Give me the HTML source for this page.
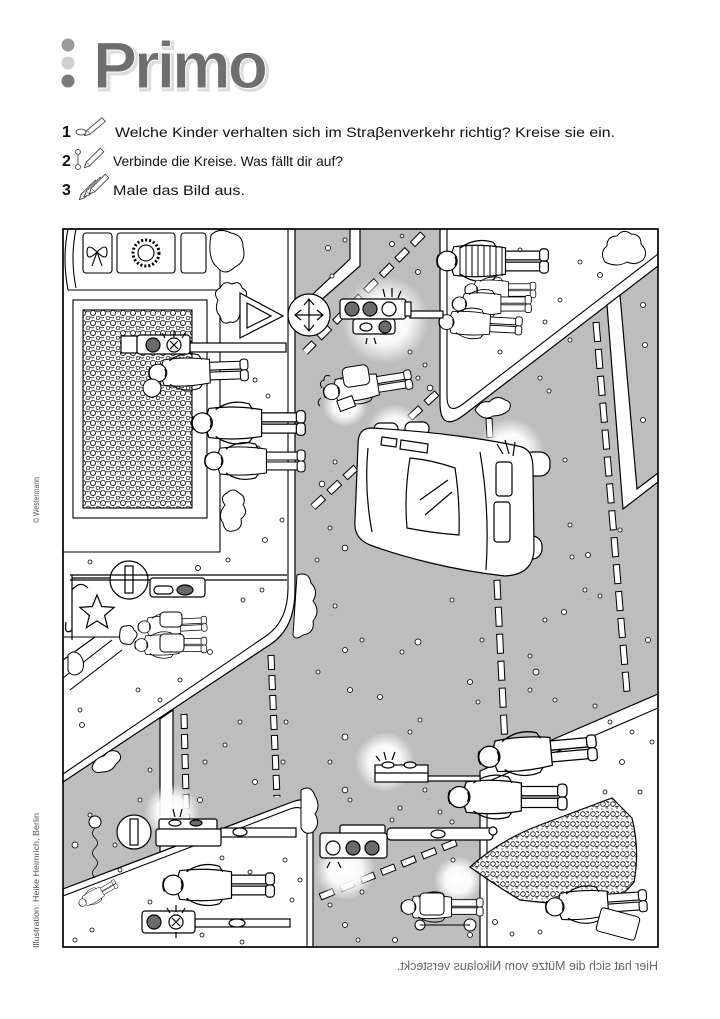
<!DOCTYPE html>
<html><head><meta charset="utf-8"><style>
html,body{margin:0;padding:0;background:#fff;}
svg{display:block;}
</style></head><body>
<svg xmlns="http://www.w3.org/2000/svg" xmlns:xlink="http://www.w3.org/1999/xlink" width="720" height="1019" viewBox="0 0 720 1019" font-family="'Liberation Sans', sans-serif">
<defs>
<radialGradient id="gl"><stop offset="0" stop-color="#fff" stop-opacity="1"/><stop offset="0.55" stop-color="#fff" stop-opacity="0.9"/><stop offset="1" stop-color="#fff" stop-opacity="0"/></radialGradient>
<pattern id="deco" width="10" height="10" patternUnits="userSpaceOnUse">
 <rect width="10" height="10" fill="#fff"/>
 <circle cx="3" cy="3" r="2.6" fill="none" stroke="#000" stroke-width="0.8"/>
 <circle cx="8" cy="8" r="1.8" fill="none" stroke="#000" stroke-width="0.7"/>
 <path d="M6,1 q2,2 4,0 M0,7 q2,2 4,0" fill="none" stroke="#000" stroke-width="0.6"/>
</pattern>
<pattern id="tree" width="10" height="10" patternUnits="userSpaceOnUse">
 <rect width="10" height="10" fill="#fff"/>
 <circle cx="3" cy="4" r="2.3" fill="none" stroke="#000" stroke-width="0.8"/>
 <circle cx="8" cy="2" r="0.7"/><circle cx="7" cy="8" r="0.7"/><circle cx="9" cy="5" r="0.6"/><circle cx="2" cy="9" r="0.6"/>
 <path d="M5,7 l4,-1 M6,1 l3,2" stroke="#000" stroke-width="0.7"/>
</pattern>
<g id="per" fill="#fff" stroke="#000" stroke-width="1.1" stroke-linejoin="round">
 <rect x="52" y="-9" width="36" height="8" rx="2"/>
 <rect x="52" y="1" width="36" height="8" rx="2"/>
 <rect x="86" y="-11" width="8" height="11" rx="3"/>
 <rect x="86" y="0" width="8" height="11" rx="3"/>
 <path d="M8,-13 Q30,-16 55,-12 L55,12 Q30,16 8,13 Q3,0 8,-13 Z"/>
 <path d="M14,-12 Q28,-22 44,-17 L47,-12" fill="none"/>
 <path d="M14,12 Q28,22 44,17 L47,13" fill="none"/>
 <circle cx="2" cy="0" r="9"/>
 <path d="M-6,-6 q-3,6 0,12 M9,-4 q2,4 0,8" fill="none"/>
</g>
</defs>

<!-- Title -->
<circle cx="68" cy="45" r="6.5" fill="#9a9a9a"/>
<circle cx="68" cy="63" r="6.5" fill="#cfcfcf"/>
<circle cx="68" cy="81" r="6.5" fill="#7a7a7a"/>
<text x="95" y="90" font-size="66" font-weight="bold" letter-spacing="-3" fill="#dcdcdc" stroke="#dcdcdc" stroke-width="3">Primo</text>
<text x="93" y="88" font-size="66" font-weight="bold" letter-spacing="-3" fill="#6e6e6e" stroke="#fff" stroke-width="1">Primo</text>

<!-- Instructions -->
<g font-size="14" fill="#111">
 <text x="62" y="137" font-weight="bold" font-size="16">1</text>
 <text x="62" y="166" font-weight="bold" font-size="16">2</text>
 <text x="62" y="195" font-weight="bold" font-size="16">3</text>
 <text x="115" y="137" textLength="500" lengthAdjust="spacingAndGlyphs">Welche Kinder verhalten sich im Straβenverkehr richtig? Kreise sie ein.</text>
 <text x="113" y="166" textLength="230" lengthAdjust="spacingAndGlyphs">Verbinde die Kreise. Was fällt dir auf?</text>
 <text x="113" y="195" textLength="132" lengthAdjust="spacingAndGlyphs">Male das Bild aus.</text>
</g>
<g fill="#fff" stroke="#333" stroke-width="0.8">
 <ellipse cx="81" cy="132" rx="5" ry="3"/>
 <g transform="translate(96,126) rotate(-40)"><rect x="-10" y="-2.5" width="20" height="5"/><path d="M-10,-2.5 L-15,0 L-10,2.5"/></g>
 <circle cx="78" cy="152" r="2.5"/><circle cx="78" cy="167" r="2.5"/><path d="M78,155 V164" fill="none"/>
 <g transform="translate(95,157) rotate(-45)"><rect x="-10" y="-2.5" width="20" height="5"/><path d="M-10,-2.5 L-15,0 L-10,2.5"/></g>
 <g transform="translate(90,189) rotate(-45)"><rect x="-10" y="-2.5" width="20" height="5"/><path d="M-10,-2.5 L-15,0 L-10,2.5"/></g>
 <g transform="translate(95,186) rotate(-45)"><rect x="-10" y="-2.5" width="20" height="5"/><path d="M-10,-2.5 L-15,0 L-10,2.5"/></g>
 <g transform="translate(100,183) rotate(-45)"><rect x="-10" y="-2.5" width="20" height="5"/><path d="M-10,-2.5 L-15,0 L-10,2.5"/></g>
</g>

<!-- Side texts -->
<text transform="translate(39,523) rotate(-90)" font-size="8.5" fill="#555" textLength="46" lengthAdjust="spacingAndGlyphs">© Westermann</text>
<text transform="translate(39,948) rotate(-90)" font-size="8.5" fill="#555" textLength="135" lengthAdjust="spacingAndGlyphs">Illustration: Heike Heimrich, Berlin</text>
<g transform="translate(1055 0) scale(-1 1)"><text x="397" y="970" font-size="12.5" fill="#666" textLength="261" lengthAdjust="spacingAndGlyphs">Hier hat sich die Mütze vom Nikolaus versteckt.</text></g>

<!-- ILLUSTRATION -->
<rect x="63" y="229" width="595" height="718" fill="#bdbdbd"/>

<!-- white areas -->
<g fill="#fff" stroke="#000" stroke-width="1.2">
 <path d="M63,229 H295 V590 Q295,628 271,644 L63,782 Z"/>
 <path d="M440,229 H658 V266 L464,415 Q440,433 440,403 Z"/>
 <path d="M607,305 L620,295 L637,489 L658,473 L658,482 L623,509 Z"/>
 <path d="M63,947 V889 L292,802 Q313,794 313,816 V947 Z"/>
 <path d="M480,947 V771 L658,694 V947 Z"/>
 <path d="M160,719 L173,710 L173,847 L160,852 Z"/>
 <path d="M350,229 L360,229 L360,266 L296,322 L296,310 L350,259 Z"/>
</g>
<g fill="none" stroke="#000" stroke-width="1.1">
 <path d="M288,229 V588 Q288,621 266,636 L63,774"/>
 <path d="M447,229 V396 Q447,416 463,404 L658,254"/>
 <path d="M63,896 L290,809 Q307,803 307,822 V947"/>
 <path d="M487,947 V782 L658,708"/>
</g>

<!-- road markings -->
<g fill="none">
 <path d="M423,234 L305,352 M437,393 L313,507 M320,897 L457,842" stroke="#000" stroke-width="7.5" stroke-dasharray="15 7"/>
 <path d="M423,234 L305,352 M437,393 L313,507 M320,897 L457,842" stroke="#fff" stroke-width="5.5" stroke-dasharray="13 9" stroke-dashoffset="-1"/>
 <path d="M596,322 L627,692 M489,418 L506,765" stroke="#000" stroke-width="7" stroke-dasharray="20 7"/>
 <path d="M596,322 L627,692 M489,418 L506,765" stroke="#fff" stroke-width="5" stroke-dasharray="18 9" stroke-dashoffset="-1"/>
 <path d="M184,714 L187,838 M271,655 L277,797" stroke="#000" stroke-width="7" stroke-dasharray="15 5"/>
 <path d="M184,714 L187,838 M271,655 L277,797" stroke="#fff" stroke-width="5" stroke-dasharray="13 7" stroke-dashoffset="-1"/>
</g>

<!-- glows -->
<g fill="url(#gl)">
 <circle cx="385" cy="320" r="44"/>
 <circle cx="345" cy="405" r="22"/>
 <circle cx="395" cy="432" r="28"/>
 <circle cx="510" cy="452" r="34"/>
 <circle cx="385" cy="762" r="30"/>
 <circle cx="172" cy="812" r="28"/>
 <circle cx="345" cy="870" r="30"/>
 <circle cx="458" cy="880" r="24"/>
</g>

<!-- snow dots -->
<g fill="#fff" stroke="#000" stroke-width="0.8">
 <circle cx="328" cy="248" r="2.5"/><circle cx="345" cy="240" r="2"/><circle cx="392" cy="244" r="2.5"/><circle cx="402" cy="236" r="1.8"/>
 <circle cx="332" cy="276" r="2"/><circle cx="418" cy="272" r="2.5"/><circle cx="410" cy="352" r="2"/><circle cx="425" cy="365" r="2"/>
 <circle cx="418" cy="378" r="2"/><circle cx="430" cy="388" r="2.8"/><circle cx="335" cy="462" r="2"/><circle cx="322" cy="484" r="2.8"/>
 <circle cx="330" cy="528" r="2"/><circle cx="345" cy="548" r="2.8"/><circle cx="317" cy="560" r="2"/><circle cx="335" cy="606" r="2"/>
 <circle cx="345" cy="650" r="2.5"/><circle cx="362" cy="640" r="2"/><circle cx="418" cy="642" r="3"/><circle cx="402" cy="652" r="2"/>
 <circle cx="318" cy="672" r="2"/><circle cx="350" cy="690" r="2.5"/><circle cx="380" cy="697" r="2.5"/><circle cx="420" cy="720" r="2"/>
 <circle cx="410" cy="732" r="2"/><circle cx="345" cy="737" r="3"/><circle cx="330" cy="762" r="2"/><circle cx="350" cy="800" r="2"/>
 <circle cx="400" cy="808" r="2"/><circle cx="392" cy="820" r="2"/><circle cx="345" cy="790" r="2.8"/><circle cx="440" cy="812" r="2"/>
 <circle cx="549" cy="391" r="2"/><circle cx="643" cy="305" r="2.5"/><circle cx="645" cy="345" r="2.5"/><circle cx="643" cy="420" r="2.5"/>
 <circle cx="570" cy="525" r="2"/><circle cx="572" cy="557" r="2"/><circle cx="588" cy="555" r="2.5"/><circle cx="585" cy="590" r="2"/>
 <circle cx="545" cy="620" r="2"/><circle cx="564" cy="612" r="2.5"/><circle cx="600" cy="596" r="2"/><circle cx="530" cy="656" r="2"/>
 <circle cx="536" cy="672" r="3"/><circle cx="530" cy="690" r="2"/><circle cx="555" cy="700" r="2"/><circle cx="595" cy="706" r="2"/>
 <circle cx="482" cy="640" r="2"/><circle cx="470" cy="682" r="2.5"/><circle cx="478" cy="702" r="2"/><circle cx="452" cy="600" r="2"/>
 <circle cx="460" cy="560" r="2"/><circle cx="565" cy="460" r="2"/><circle cx="620" cy="530" r="2"/><circle cx="648" cy="640" r="2.5"/>
 <circle cx="90" cy="815" r="2"/><circle cx="75" cy="845" r="3"/><circle cx="115" cy="845" r="2"/><circle cx="120" cy="870" r="2"/>
 <circle cx="140" cy="800" r="2"/><circle cx="205" cy="762" r="2"/><circle cx="200" cy="800" r="2.5"/><circle cx="225" cy="745" r="2"/>
 <circle cx="240" cy="722" r="2"/><circle cx="222" cy="858" r="2"/><circle cx="255" cy="782" r="2.5"/><circle cx="283" cy="762" r="2"/>
 <circle cx="286" cy="722" r="2"/><circle cx="232" cy="830" r="2"/><circle cx="150" cy="770" r="2"/>
 <circle cx="330" cy="905" r="2"/><circle cx="345" cy="925" r="2.5"/><circle cx="362" cy="892" r="2"/><circle cx="425" cy="790" r="2"/>
 <circle cx="453" cy="860" r="2"/><circle cx="470" cy="935" r="2.5"/><circle cx="452" cy="822" r="2"/><circle cx="358" cy="940" r="2"/><circle cx="395" cy="940" r="2.5"/>
 <circle cx="255" cy="380" r="2"/><circle cx="268" cy="396" r="2"/><circle cx="258" cy="448" r="2"/><circle cx="282" cy="520" r="2"/>
 <circle cx="265" cy="540" r="2.5"/><circle cx="90" cy="562" r="2"/><circle cx="210" cy="652" r="2.5"/><circle cx="180" cy="680" r="2"/>
 <circle cx="160" cy="700" r="2"/><circle cx="80" cy="710" r="2"/><circle cx="82" cy="725" r="2.5"/><circle cx="243" cy="600" r="2"/>
 <circle cx="262" cy="590" r="2"/><circle cx="228" cy="560" r="2"/><circle cx="198" cy="568" r="2.5"/><circle cx="138" cy="690" r="2"/>
 <circle cx="580" cy="262" r="2"/><circle cx="600" cy="275" r="2.5"/><circle cx="560" cy="300" r="2"/><circle cx="545" cy="322" r="2"/>
 <circle cx="570" cy="340" r="2"/><circle cx="500" cy="352" r="2"/><circle cx="540" cy="378" r="2"/><circle cx="520" cy="250" r="2"/>
 <circle cx="610" cy="722" r="2"/><circle cx="632" cy="732" r="2"/><circle cx="622" cy="762" r="2.5"/><circle cx="652" cy="742" r="2"/>
 <circle cx="605" cy="792" r="2"/><circle cx="640" cy="792" r="2"/><circle cx="495" cy="922" r="2.5"/><circle cx="512" cy="934" r="2"/>
 <circle cx="540" cy="932" r="2"/><circle cx="628" cy="922" r="2"/>
 <circle cx="75" cy="940" r="2"/><circle cx="92" cy="930" r="2"/><circle cx="150" cy="902" r="2"/><circle cx="202" cy="935" r="2"/>
 <circle cx="242" cy="942" r="2"/><circle cx="292" cy="900" r="2"/><circle cx="300" cy="880" r="2"/><circle cx="285" cy="860" r="2"/><circle cx="250" cy="872" r="2"/>
</g>

<!-- building -->
<g fill="none" stroke="#000" stroke-width="1.1">
 <path d="M220,229 V552 H63"/>
 <path d="M68,290 H220"/>
 <path d="M68,229 Q62,258 68,290 M76,229 Q70,258 76,288"/>
 <rect x="83" y="233" width="29" height="40" rx="3" fill="#fff"/>
 <rect x="117" y="233" width="58" height="40" rx="3" fill="#fff"/>
 <rect x="181" y="233" width="25" height="40" rx="3" fill="#fff"/>
 <path d="M97,252 q-10,-10 -10,0 q0,10 10,0 q10,-10 10,0 q0,10 -10,0 M97,252 l-5,14 M97,252 l5,14"/>
 <circle cx="146" cy="253" r="13" stroke-width="3" stroke-dasharray="2 2"/>
 <circle cx="146" cy="253" r="8"/>
 <rect x="73" y="300" width="134" height="218" fill="#fff"/>
 <rect x="83" y="310" width="109" height="198" fill="url(#deco)"/>
 <path d="M63,637 H123 M63,660 L95,637 M63,678 L112,640 M70,690 L122,650"/>
</g>

<!-- bushes -->
<g fill="#fff" stroke="#000" stroke-width="1">
 <path d="M218,300 q-6,-8 2,-12 q4,-8 12,-4 q8,-4 10,4 q8,4 2,12 q4,10 -4,14 q-2,10 -10,8 q-8,4 -10,-6 q-6,-6 -2,-16 Z"/>
 <path d="M225,505 q-6,-8 2,-12 q6,-6 12,0 q8,4 4,12 q6,8 -2,14 q2,10 -8,12 q-8,2 -10,-8 q-6,-8 2,-18 Z"/>
 <path d="M120,632 q0,-6 6,-6 q6,-2 8,4 q6,4 0,10 q-2,6 -8,4 q-8,0 -6,-12 Z"/>
 <path d="M297,575 q12,-4 14,8 q8,8 2,18 q8,10 0,20 q2,12 -10,14 q-8,6 -10,0 Z"/>
 <path d="M605,262 q-6,-10 2,-16 q0,-10 10,-10 q6,-8 14,-2 q10,0 10,10 q8,8 2,16 q-8,6 -16,2 q-10,6 -22,0 Z"/>
 <path d="M475,410 q6,-10 14,-8 q8,-8 16,-2 q8,2 4,10 q-6,6 -16,6 q-10,6 -18,-6 Z"/>
 <path d="M92,768 q2,-10 12,-12 q6,-8 14,-4 q6,6 -2,12 q-4,8 -14,8 q-8,2 -10,-4 Z"/>
 <path d="M301,790 q10,-6 14,6 q6,10 0,18 q6,10 -2,18 q-8,4 -12,-4 Z"/>
 <path d="M211,235 q8,-8 20,-2 q12,2 12,14 q4,14 -8,20 q-10,10 -18,0 q-10,-8 -6,-32 Z"/>
</g>

<!-- car -->
<g fill="#fff" stroke="#000" stroke-width="1.2">
 <rect x="522" y="452" width="28" height="24" rx="10"/>
 <rect x="516" y="536" width="26" height="23" rx="10"/>
 <rect x="374" y="423" width="24" height="14" rx="6"/>
 <rect x="405" y="422" width="24" height="13" rx="6"/>
 <path d="M372,428 C440,432 490,440 518,446 C530,448 533,456 533,470 L534,548 C534,565 525,575 505,576 C450,570 400,556 370,545 C358,540 354,532 355,520 L358,445 C358,432 363,428 372,428 Z"/>
 <path d="M368,448 Q364,490 372,532" fill="none"/>
 <path d="M382,437 L397,439 L396,447 L381,445 Z M401,440 L428,444 L427,453 L400,449 Z"/>
 <path d="M410,458 Q432,460 455,468 Q460,500 459,535 Q432,533 407,528 Q404,494 410,458 Z"/>
 <path d="M420,500 L448,480 M425,515 L452,492" fill="none"/>
 <path d="M480,452 Q490,510 486,570" fill="none"/>
 <rect x="496" y="462" width="16" height="34" rx="3"/>
 <rect x="494" y="502" width="16" height="40" rx="3"/>
 <path d="M505,440 l4,14 M515,442 l-2,14 M497,444 l6,10" fill="none"/>
</g>

<!-- people -->
<use xlink:href="#per" href="#per" transform="translate(445,261) scale(1.1)"/>
<g stroke="#000" stroke-width="1" fill="none"><path d="M460,247 V276 M466,246 V277 M472,246 V277 M478,246 V277 M484,246 V277 M490,246 V276 M496,247 V276 M502,247 V276"/></g>
<use xlink:href="#per" href="#per" transform="translate(470,290) scale(0.7)"/>
<use xlink:href="#per" href="#per" transform="translate(458,304) scale(0.78)"/>
<use xlink:href="#per" href="#per" transform="translate(445,322) rotate(3) scale(0.82)"/>
<use xlink:href="#per" href="#per" transform="translate(330,392) rotate(-9) scale(0.88)"/>
<rect x="343" y="366" width="26" height="20" rx="5" fill="#fff" stroke="#000" transform="rotate(-9 356 376)"/>
<rect x="338" y="398" width="16" height="11" fill="#fff" stroke="#000" transform="rotate(-20 346 403)"/>
<path d="M322,388 q-4,-6 2,-8 q0,-6 6,-4 M321,398 q-5,4 -1,8" fill="none" stroke="#000"/>
<use xlink:href="#per" href="#per" transform="translate(156,373) rotate(-2) scale(0.98)"/>
<circle cx="152" cy="388" r="9" fill="#fff" stroke="#000"/>
<use xlink:href="#per" href="#per" transform="translate(200,423) scale(1.12)"/>
<use xlink:href="#per" href="#per" transform="translate(212,461) scale(0.99)"/>
<use xlink:href="#per" href="#per" transform="translate(143,627) rotate(-3) scale(0.68)"/>
<use xlink:href="#per" href="#per" transform="translate(140,645) scale(0.71)"/>
<rect x="160" y="634" width="24" height="18" rx="4" fill="#fff" stroke="#000"/>
<rect x="160" y="612" width="22" height="15" rx="4" fill="#fff" stroke="#000"/>
<path d="M68,655 q6,-6 12,0 q6,8 2,16 q-8,8 -14,0 Z" fill="#fff" stroke="#000"/>

<!-- christmas tree -->
<path d="M470,867 Q500,840 540,825 Q580,810 612,798 Q622,808 632,818 Q640,850 634,882 Q620,900 600,905 Q560,905 520,900 Q495,885 470,867 Z" fill="url(#tree)" stroke="#000" stroke-width="1.2"/>

<use xlink:href="#per" href="#per" transform="translate(487,757) rotate(-5) scale(1.17)"/>
<use xlink:href="#per" href="#per" transform="translate(457,797) scale(1.17)"/>
<use xlink:href="#per" href="#per" transform="translate(553,907) rotate(-4) scale(1.0)"/>
<rect x="598" y="912" width="40" height="24" rx="3" fill="#fff" stroke="#000" transform="rotate(15 618 924)"/>
<use xlink:href="#per" href="#per" transform="translate(407,907) scale(0.81)"/>
<rect x="420" y="893" width="24" height="22" rx="4" fill="#fff" stroke="#000"/>
<g fill="#fff" stroke="#000"><circle cx="420" cy="925" r="5"/><circle cx="470" cy="925" r="6"/><path d="M420,925 L470,925"/></g>
<use xlink:href="#per" href="#per" transform="translate(82,903) rotate(-30) scale(0.42)"/>
<use xlink:href="#per" href="#per" transform="translate(171,885) scale(1.1)"/>
<circle cx="95" cy="822" r="6" fill="#fff" stroke="#000"/>
<path d="M95,828 q-5,5 0,10 q5,5 0,10 q-5,5 0,10 q5,5 0,10 q-5,5 0,10" fill="none" stroke="#000" stroke-width="0.8"/>

<!-- signs -->
<g fill="#fff" stroke="#000" stroke-width="1.2">
 <polygon points="240,293 240,338 283,316"/>
 <polygon points="247,303 247,328 271,316" fill="none"/>
 <circle cx="309" cy="315" r="21"/>
 <path d="M309,300 V330 M296,315 H322 M304,305 L309,299 L314,305 M304,325 L309,331 L314,325 M301,310 L295,315 L301,320 M317,310 L323,315 L317,320" fill="none"/>
 <circle cx="129" cy="580" r="19"/>
 <rect x="125" y="566" width="8" height="27"/>
 <circle cx="134" cy="832" r="17"/>
 <rect x="130" y="819" width="8" height="26"/>
 <path d="M72,575 V640 M72,578 H110 M72,590 q8,-10 16,-2 M72,630 q-8,6 -6,-8" fill="none"/>
 <polygon points="97,595 101.7,606.5 114.1,607.4 104.6,615.5 107.6,627.6 97,621 86.4,627.6 89.4,615.5 79.9,607.4 92.3,606.5"/>
</g>

<!-- traffic lights -->
<g fill="#fff" stroke="#000" stroke-width="1.2">
 <rect x="410" y="311" width="33" height="7"/>
 <rect x="340" y="299" width="66" height="20" rx="3"/>
 <rect x="405" y="302" width="6" height="14"/>
 <circle cx="352" cy="309" r="7" fill="#6b6b6b"/>
 <circle cx="370" cy="309" r="7" fill="#6b6b6b"/>
 <circle cx="389" cy="309" r="7"/>
 <rect x="353" y="319" width="42" height="15" rx="3"/>
 <ellipse cx="366" cy="327" rx="6" ry="4"/>
 <circle cx="385" cy="327" r="6" fill="#6b6b6b"/>
 <path d="M385,297 l-2,-8 M392,297 l0,-9 M398,298 l3,-7 M367,338 l-1,6 M374,338 l2,6" fill="none"/>
 <rect x="190" y="343" width="96" height="9"/>
 <rect x="121" y="336" width="16" height="17"/>
 <rect x="137" y="335" width="53" height="19" rx="3"/>
 <circle cx="153" cy="345" r="7" fill="#6b6b6b"/>
 <circle cx="174" cy="345" r="7"/>
 <path d="M170,341 l8,8 M178,341 l-8,8 M174,337 l0,-6 M165,338 l-3,-5 M182,338 l3,-5" fill="none"/>
 <path d="M70,575 H287 M70,580 H150 M205,580 H287" fill="none"/>
 <rect x="150" y="578" width="55" height="19" rx="3"/>
 <rect x="154" y="586" width="19" height="8" rx="4"/>
 <ellipse cx="185" cy="590" rx="8" ry="5" fill="#6b6b6b"/>
 <rect x="221" y="828" width="75" height="9"/>
 <ellipse cx="240" cy="832" rx="7" ry="4"/>
 <rect x="159" y="819" width="58" height="11" rx="2"/>
 <rect x="156" y="829" width="65" height="17" rx="2"/>
 <ellipse cx="175" cy="823" rx="6" ry="3"/>
 <ellipse cx="196" cy="823" rx="6" ry="3" fill="#6b6b6b"/>
 <path d="M175,817 l-2,-8 M180,817 l2,-8" fill="none"/>
 <rect x="428" y="776" width="52" height="5"/>
 <rect x="375" y="765" width="53" height="17"/>
 <path d="M375,773 H428" fill="none"/>
 <ellipse cx="388" cy="765" rx="6" ry="3"/>
 <ellipse cx="410" cy="765" rx="6" ry="3"/>
 <path d="M386,760 l-2,-8 M392,760 l3,-8 M380,761 l-4,-5" fill="none"/>
 <rect x="387" y="828" width="106" height="12" rx="4"/>
 <ellipse cx="438" cy="834" rx="7" ry="4"/>
 <circle cx="493" cy="831" r="4"/>
 <rect x="340" y="825" width="45" height="9" rx="2"/>
 <rect x="320" y="833" width="67" height="25" rx="3"/>
 <circle cx="333" cy="848" r="7"/>
 <circle cx="353" cy="848" r="7" fill="#6b6b6b"/>
 <circle cx="372" cy="848" r="7" fill="#6b6b6b"/>
 <path d="M330,862 l-3,6 M338,862 l3,6" fill="none"/>
 <rect x="195" y="919" width="95" height="8"/>
 <ellipse cx="237" cy="923" rx="8" ry="4"/>
 <rect x="142" y="911" width="53" height="22" rx="3"/>
 <circle cx="154" cy="922" r="7" fill="#6b6b6b"/>
 <circle cx="176" cy="922" r="7"/>
 <path d="M172,918 l8,8 M180,918 l-8,8 M176,912 l0,-7 M170,913 l-3,-5 M182,913 l3,-5 M176,932 l0,6" fill="none"/>
</g>

<!-- frame -->
<rect x="63" y="229" width="595" height="718" fill="none" stroke="#000" stroke-width="1.6"/>
</svg>
</body></html>
